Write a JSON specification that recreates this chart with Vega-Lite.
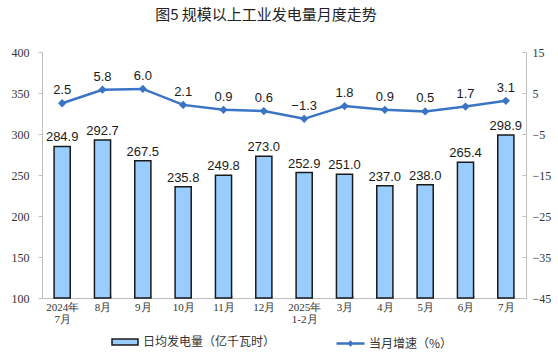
{
  "$schema": "https://vega.github.io/schema/vega-lite/v6.json",
  "width": 484,
  "height": 246,
  "autosize": {"type": "none"},
  "padding": {"left": 42, "top": 52, "right": 32, "bottom": 62},
  "background": "white",
  "title": {
    "text": "图5  规模以上工业发电量月度走势",
    "font": "Noto Sans CJK SC",
    "fontSize": 15,
    "fontWeight": "normal",
    "color": "#222222",
    "anchor": "middle",
    "baseline": "bottom",
    "offset": 8,
    "dx": -18
  },
  "config": {
    "view": {"stroke": null},
    "axis": {"grid": false, "domainColor": "#bfbfbf", "tickColor": "#bfbfbf"}
  },
  "data": {
    "values": [
      {"month": "2024年|7月", "gen": 284.9, "growth": 2.5},
      {"month": "8月", "gen": 292.7, "growth": 5.8},
      {"month": "9月", "gen": 267.5, "growth": 6.0},
      {"month": "10月", "gen": 235.8, "growth": 2.1},
      {"month": "11月", "gen": 249.8, "growth": 0.9},
      {"month": "12月", "gen": 273.0, "growth": 0.6},
      {"month": "2025年|1-2月", "gen": 252.9, "growth": -1.3},
      {"month": "3月", "gen": 251.0, "growth": 1.8},
      {"month": "4月", "gen": 237.0, "growth": 0.9},
      {"month": "5月", "gen": 238.0, "growth": 0.5},
      {"month": "6月", "gen": 265.4, "growth": 1.7},
      {"month": "7月", "gen": 298.9, "growth": 3.1}
    ]
  },
  "encoding": {
    "x": {
      "field": "month",
      "type": "nominal",
      "sort": null,
      "scale": {"paddingInner": 0.6, "paddingOuter": 0.3},
      "axis": {
        "title": null,
        "labelAngle": 0,
        "labelExpr": "split(datum.label, '|')",
        "labelFont": "Liberation Serif",
        "labelFontSize": 11,
        "labelColor": "#333333",
        "labelLineHeight": 12,
        "labelPadding": 6,
        "tickBand": "extent",
        "tickSize": -3
      }
    }
  },
  "layer": [
    {
      "layer": [
        {
          "mark": {"type": "bar", "stroke": "#1a1a1a", "strokeWidth": 1.5},
          "encoding": {
            "y": {
              "field": "gen",
              "type": "quantitative",
              "scale": {"domain": [100, 400], "zero": false, "nice": false},
              "axis": {
                "title": null,
                "values": [100, 150, 200, 250, 300, 350, 400],
                "labelFont": "Liberation Serif",
                "labelFontSize": 12,
                "labelColor": "#333333",
                "tickSize": 4,
                "labelPadding": 9
              }
            },
            "y2": {"datum": 100},
            "fill": {
              "datum": "日均发电量（亿千瓦时）",
              "type": "nominal",
              "scale": {"range": ["#99ccff"]},
              "legend": {
                "title": null,
                "orient": "none",
                "legendX": 69,
                "legendY": 276,
                "symbolType": "M-1,-0.23H1V0.23H-1Z",
                "symbolSize": 676,
                "symbolStrokeColor": "#1a1a1a",
                "symbolStrokeWidth": 1.5,
                "labelFont": "Noto Sans CJK SC",
                "labelFontSize": 12,
                "labelColor": "#333333",
                "labelOffset": 4
              }
            }
          }
        },
        {
          "mark": {"type": "text", "baseline": "bottom", "dy": -2, "font": "Liberation Sans", "fontSize": 13, "color": "#1a1a1a"},
          "encoding": {
            "y": {"field": "gen", "type": "quantitative"},
            "text": {"field": "gen", "type": "quantitative", "format": ".1f"}
          }
        }
      ]
    },
    {
      "layer": [
        {
          "mark": {"type": "line", "strokeWidth": 2.5, "point": {"shape": "diamond", "size": 30, "filled": true, "fill": "#3a74c4", "color": "#3a74c4"}},
          "encoding": {
            "y": {
              "field": "growth",
              "type": "quantitative",
              "scale": {"domain": [-45, 15], "nice": false},
              "axis": {
                "title": null,
                "orient": "right",
                "values": [-45, -35, -25, -15, -5, 5, 15],
                "labelFont": "Liberation Serif",
                "labelFontSize": 12,
                "labelColor": "#333333",
                "tickSize": -4,
                "labelPadding": 10
              }
            },
            "stroke": {
              "datum": "当月增速（%）",
              "type": "nominal",
              "scale": {"range": ["#3a74c4"]},
              "legend": {
                "title": null,
                "orient": "none",
                "legendX": 293,
                "legendY": 276,
                "symbolType": "M-1,0H1M0,-0.1L0.1,0L0,0.1L-0.1,0Z",
                "symbolSize": 784,
                "symbolStrokeWidth": 2.5,
                "symbolFillColor": "#3a74c4",
                "labelFont": "Noto Sans CJK SC",
                "labelFontSize": 12,
                "labelColor": "#333333",
                "labelOffset": 3
              }
            }
          }
        },
        {
          "mark": {"type": "text", "baseline": "bottom", "dy": -6, "font": "Liberation Sans", "fontSize": 13, "color": "#1a1a1a"},
          "encoding": {
            "y": {"field": "growth", "type": "quantitative"},
            "text": {"field": "growth", "type": "quantitative", "format": ".1f"}
          }
        }
      ]
    }
  ],
  "resolve": {"scale": {"y": "independent"}}
}
